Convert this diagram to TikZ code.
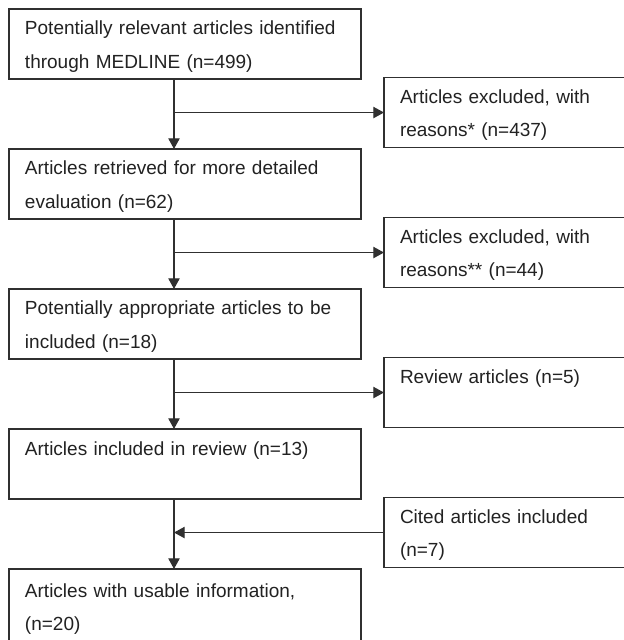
\documentclass[tikz,border=0pt]{standalone}
\usepackage{fontspec}
\setmainfont{Liberation Sans}
\usepackage{tikz}
\usetikzlibrary{positioning, arrows.meta}
\definecolor{inkDark}{HTML}{222222}
\definecolor{lineDark}{HTML}{303030}
\newcommand{\bxstrut}{\rule[-2pt]{0pt}{16pt}}
\tikzset{
  box/.style   = {draw=lineDark, line width=1pt, fill=white, align=left, text=inkDark,
                  font=\fontsize{14.25pt}{25pt}\selectfont, inner xsep=12pt, inner ysep=0pt,
                  outer sep=0pt, minimum height=52.5pt,
                  execute at begin node=\bxstrut, execute at end node=\bxstrut},
  main/.style  = {box, minimum width=264pt, text width=240pt},
  side/.style  = {box, minimum width=184.5pt, text width=160.5pt},
  fl/.style    = {-{Triangle[length=8pt, width=8.5pt]}, draw=lineDark, line width=0.9pt}
}

\begin{document}
\begin{tikzpicture}[node distance=52.5pt]
  \path[use as bounding box, fill=white] (0,0) rectangle (468pt,-480pt);
  \clip (0,0) rectangle (468pt,-480pt);

  % main column
  \node[main, anchor=north west] (b1) at (6.75pt,-6.75pt)
    {Potentially relevant articles identified\\ through MEDLINE (n=499)};
  \node[main, below=of b1] (b2) {Articles retrieved for more detailed\\ evaluation (n=62)};
  \node[main, below=of b2] (b3) {Potentially appropriate articles to be\\ included (n=18)};
  \node[main, below=of b3] (b4) {Articles included in review (n=13)\\};
  \node[main, below=of b4, minimum height=56pt] (b5) {Articles with usable information,\\ (n=20)};

  % side boxes
  \node[side, below right=-1.1pt and 17.25pt of b1.south east] (e1) {Articles excluded, with\\ reasons* (n=437)};
  \node[side, below right=-1.1pt and 17.25pt of b2.south east] (e2) {Articles excluded, with\\ reasons** (n=44)};
  \node[side, below right=-1.1pt and 17.25pt of b3.south east] (e3) {Review articles (n=5)\\};
  \node[side, below right=-1.1pt and 17.25pt of b4.south east] (e4) {Cited articles included\\ (n=7)};

  % flow line, a little left of the box centres
  \foreach \i in {1,...,4} {
    \coordinate (s\i) at ([xshift=-8.25pt]b\i.south);
  }
  \draw[fl] (s1) -- ([xshift=-8.25pt]b2.north);
  \draw[fl] (s2) -- ([xshift=-8.25pt]b3.north);
  \draw[fl] (s3) -- ([xshift=-8.25pt]b4.north);
  \draw[fl] (s4) -- ([xshift=-8.25pt]b5.north);

  \draw[fl] (s1 |- e1.west) -- (e1.west);
  \draw[fl] (s2 |- e2.west) -- (e2.west);
  \draw[fl] (s3 |- e3.west) -- (e3.west);
  \draw[fl] (e4.west) -- (s4 |- e4.west);
\end{tikzpicture}
\end{document}
